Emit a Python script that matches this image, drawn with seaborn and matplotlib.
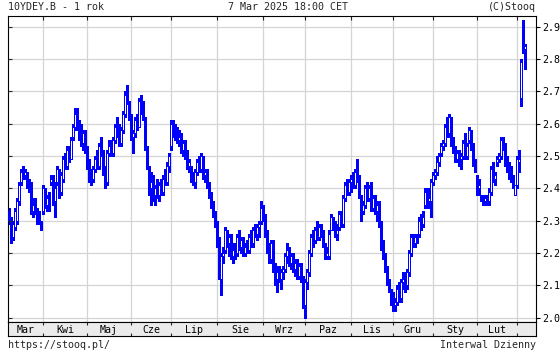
import numpy as np
import pandas as pd
import matplotlib
matplotlib.use("Agg")
import matplotlib.pyplot as plt
import seaborn as sns

# ---------------- data (10YDEY.B daily OHLC, Mar 2024 - Mar 2025) ----------------
opens = [
    2.33, 2.30, 2.25, 2.28, 2.30, 2.36, 2.42, 2.45, 2.44, 2.44, 2.42, 2.41, 2.33, 2.35, 2.33, 2.31, 2.30,
    2.33, 2.39, 2.35, 2.37, 2.42, 2.43, 2.36, 2.42, 2.45, 2.39, 2.43, 2.49, 2.47, 2.51, 2.49, 2.56, 2.59, 2.63, 2.59, 2.58, 2.54, 2.57,
    2.52, 2.47, 2.44, 2.43, 2.46, 2.49, 2.47, 2.53, 2.51, 2.45, 2.42, 2.51, 2.53, 2.51, 2.55, 2.59, 2.57, 2.54, 2.58, 2.63, 2.69, 2.67,
    2.62, 2.56, 2.57, 2.60, 2.59, 2.67, 2.64, 2.62, 2.53, 2.47, 2.40, 2.42, 2.38, 2.40, 2.38, 2.41, 2.39, 2.43, 2.42, 2.47,
    2.53, 2.60, 2.58, 2.57, 2.55, 2.56, 2.52, 2.54, 2.50, 2.47, 2.45, 2.43, 2.42, 2.45, 2.48, 2.46, 2.50, 2.44, 2.45, 2.41, 2.38, 2.35, 2.32,
    2.30, 2.24, 2.12, 2.19, 2.21, 2.26, 2.23, 2.25, 2.19, 2.21, 2.20, 2.25, 2.22, 2.24, 2.20, 2.22, 2.21, 2.25, 2.23, 2.27, 2.26, 2.28, 2.30,
    2.34, 2.31, 2.26, 2.21, 2.18, 2.23, 2.15, 2.12, 2.14, 2.12, 2.14, 2.15, 2.19, 2.21, 2.17, 2.19, 2.15, 2.17, 2.13, 2.16, 2.12,
    2.04, 2.11, 2.14, 2.20, 2.25, 2.24, 2.27, 2.25, 2.28, 2.26, 2.23, 2.19, 2.19, 2.27, 2.31, 2.28, 2.26, 2.28, 2.32, 2.29, 2.37, 2.41, 2.39,
    2.42, 2.43, 2.41, 2.45, 2.43, 2.36, 2.33, 2.35, 2.40, 2.37, 2.40, 2.34, 2.37, 2.33, 2.35, 2.29, 2.22, 2.19, 2.15, 2.11, 2.08,
    2.07, 2.04, 2.05, 2.09, 2.06, 2.11, 2.12, 2.10, 2.14, 2.20, 2.25, 2.23, 2.25, 2.26, 2.30, 2.29, 2.35, 2.39, 2.36, 2.36,
    2.42, 2.44, 2.45, 2.48, 2.51, 2.53, 2.54, 2.59, 2.57, 2.62, 2.54, 2.52, 2.49, 2.51, 2.49, 2.50, 2.54, 2.50, 2.55, 2.58, 2.53, 2.48,
    2.43, 2.40, 2.37, 2.37, 2.36, 2.37, 2.36, 2.39, 2.46, 2.43, 2.48, 2.49, 2.50, 2.55, 2.53, 2.48, 2.46, 2.45, 2.43, 2.38,
    2.41, 2.48, 2.68, 2.91, 2.83,
]
highs = [
    2.34, 2.31, 2.30, 2.34, 2.37, 2.42, 2.46, 2.47, 2.46, 2.45, 2.43, 2.42, 2.37, 2.37, 2.34, 2.33, 2.30,
    2.41, 2.40, 2.38, 2.39, 2.44, 2.44, 2.42, 2.47, 2.46, 2.45, 2.50, 2.51, 2.53, 2.53, 2.56, 2.60, 2.65, 2.65, 2.61, 2.60, 2.58, 2.58,
    2.53, 2.49, 2.46, 2.47, 2.50, 2.52, 2.54, 2.56, 2.52, 2.47, 2.52, 2.55, 2.55, 2.56, 2.60, 2.62, 2.60, 2.59, 2.64, 2.70, 2.72, 2.67,
    2.63, 2.58, 2.62, 2.63, 2.68, 2.69, 2.67, 2.62, 2.53, 2.47, 2.45, 2.44, 2.41, 2.43, 2.42, 2.43, 2.44, 2.46, 2.48, 2.51,
    2.61, 2.61, 2.60, 2.59, 2.58, 2.57, 2.55, 2.55, 2.52, 2.49, 2.47, 2.45, 2.46, 2.49, 2.50, 2.51, 2.50, 2.46, 2.46, 2.42, 2.39, 2.36, 2.33,
    2.30, 2.25, 2.20, 2.22, 2.28, 2.27, 2.26, 2.26, 2.23, 2.23, 2.26, 2.27, 2.25, 2.25, 2.23, 2.24, 2.26, 2.27, 2.28, 2.29, 2.29, 2.30, 2.36,
    2.35, 2.32, 2.27, 2.23, 2.24, 2.24, 2.17, 2.16, 2.16, 2.15, 2.16, 2.20, 2.23, 2.22, 2.20, 2.20, 2.18, 2.18, 2.17, 2.17, 2.13,
    2.12, 2.15, 2.21, 2.26, 2.27, 2.28, 2.30, 2.29, 2.29, 2.27, 2.23, 2.22, 2.27, 2.32, 2.31, 2.30, 2.29, 2.33, 2.33, 2.38, 2.42, 2.43, 2.43,
    2.44, 2.45, 2.46, 2.49, 2.44, 2.38, 2.36, 2.41, 2.42, 2.41, 2.42, 2.38, 2.38, 2.36, 2.36, 2.30, 2.24, 2.20, 2.16, 2.12, 2.09,
    2.08, 2.06, 2.10, 2.11, 2.12, 2.14, 2.14, 2.15, 2.21, 2.26, 2.26, 2.26, 2.26, 2.31, 2.32, 2.33, 2.40, 2.40, 2.40, 2.43,
    2.45, 2.46, 2.50, 2.51, 2.54, 2.55, 2.60, 2.62, 2.63, 2.62, 2.56, 2.53, 2.52, 2.52, 2.51, 2.55, 2.57, 2.54, 2.59, 2.58, 2.54, 2.49,
    2.44, 2.43, 2.38, 2.38, 2.38, 2.38, 2.40, 2.47, 2.48, 2.45, 2.50, 2.51, 2.56, 2.56, 2.54, 2.50, 2.48, 2.47, 2.44, 2.41,
    2.50, 2.52, 2.80, 2.92, 2.845,
]
lows = [
    2.29, 2.23, 2.24, 2.27, 2.29, 2.35, 2.41, 2.43, 2.43, 2.40, 2.39, 2.32, 2.31, 2.32, 2.29, 2.29, 2.27,
    2.32, 2.34, 2.33, 2.33, 2.41, 2.35, 2.31, 2.41, 2.37, 2.38, 2.42, 2.46, 2.46, 2.48, 2.49, 2.55, 2.58, 2.58, 2.55, 2.53, 2.52, 2.51,
    2.46, 2.42, 2.41, 2.42, 2.45, 2.46, 2.46, 2.50, 2.44, 2.40, 2.41, 2.50, 2.50, 2.50, 2.54, 2.56, 2.53, 2.53, 2.57, 2.62, 2.66, 2.61,
    2.55, 2.51, 2.56, 2.58, 2.59, 2.63, 2.61, 2.52, 2.46, 2.38, 2.35, 2.36, 2.35, 2.37, 2.36, 2.38, 2.38, 2.41, 2.41, 2.45,
    2.52, 2.56, 2.55, 2.54, 2.53, 2.51, 2.50, 2.49, 2.46, 2.45, 2.42, 2.41, 2.40, 2.44, 2.45, 2.45, 2.43, 2.42, 2.40, 2.37, 2.34, 2.31, 2.28,
    2.22, 2.12, 2.07, 2.17, 2.20, 2.22, 2.19, 2.18, 2.17, 2.18, 2.19, 2.21, 2.20, 2.19, 2.19, 2.20, 2.20, 2.22, 2.22, 2.25, 2.24, 2.25, 2.29,
    2.30, 2.25, 2.20, 2.17, 2.17, 2.14, 2.10, 2.08, 2.11, 2.09, 2.12, 2.14, 2.17, 2.16, 2.15, 2.14, 2.13, 2.12, 2.12, 2.11, 2.03,
    2.00, 2.09, 2.13, 2.19, 2.22, 2.23, 2.24, 2.24, 2.25, 2.22, 2.18, 2.18, 2.18, 2.27, 2.27, 2.25, 2.24, 2.27, 2.28, 2.28, 2.36, 2.38, 2.38,
    2.39, 2.40, 2.40, 2.42, 2.37, 2.30, 2.32, 2.34, 2.36, 2.36, 2.33, 2.33, 2.32, 2.30, 2.28, 2.21, 2.18, 2.14, 2.10, 2.08, 2.04,
    2.02, 2.02, 2.04, 2.05, 2.05, 2.09, 2.08, 2.09, 2.13, 2.19, 2.22, 2.22, 2.23, 2.25, 2.27, 2.28, 2.34, 2.34, 2.34, 2.31,
    2.41, 2.43, 2.44, 2.47, 2.50, 2.52, 2.53, 2.56, 2.56, 2.53, 2.51, 2.48, 2.48, 2.47, 2.46, 2.49, 2.49, 2.49, 2.54, 2.52, 2.47, 2.45,
    2.38, 2.38, 2.36, 2.35, 2.35, 2.35, 2.35, 2.38, 2.42, 2.41, 2.47, 2.48, 2.49, 2.52, 2.47, 2.45, 2.43, 2.42, 2.40, 2.38,
    2.40, 2.45, 2.655, 2.82, 2.77,
]
closes = [
    2.30, 2.25, 2.29, 2.33, 2.36, 2.41, 2.45, 2.44, 2.45, 2.41, 2.42, 2.33, 2.35, 2.33, 2.30, 2.29, 2.28,
    2.40, 2.35, 2.37, 2.34, 2.43, 2.36, 2.40, 2.46, 2.39, 2.44, 2.49, 2.47, 2.52, 2.49, 2.55, 2.59, 2.63, 2.59, 2.58, 2.54, 2.57, 2.52,
    2.47, 2.44, 2.43, 2.46, 2.49, 2.47, 2.53, 2.51, 2.45, 2.42, 2.51, 2.53, 2.51, 2.55, 2.59, 2.57, 2.54, 2.58, 2.63, 2.69, 2.67, 2.62,
    2.56, 2.57, 2.61, 2.59, 2.67, 2.64, 2.62, 2.53, 2.47, 2.40, 2.42, 2.38, 2.40, 2.38, 2.41, 2.39, 2.43, 2.42, 2.47, 2.50,
    2.60, 2.58, 2.57, 2.55, 2.56, 2.52, 2.54, 2.50, 2.47, 2.48, 2.43, 2.42, 2.45, 2.48, 2.46, 2.50, 2.44, 2.45, 2.41, 2.38, 2.35, 2.32, 2.30,
    2.24, 2.15, 2.19, 2.20, 2.27, 2.23, 2.25, 2.19, 2.21, 2.20, 2.25, 2.22, 2.24, 2.20, 2.22, 2.21, 2.25, 2.23, 2.27, 2.26, 2.28, 2.29, 2.34,
    2.31, 2.26, 2.21, 2.18, 2.23, 2.15, 2.12, 2.14, 2.12, 2.14, 2.15, 2.19, 2.21, 2.17, 2.19, 2.15, 2.17, 2.13, 2.16, 2.12, 2.05,
    2.11, 2.14, 2.20, 2.25, 2.24, 2.27, 2.25, 2.28, 2.26, 2.23, 2.19, 2.20, 2.26, 2.31, 2.28, 2.26, 2.27, 2.32, 2.29, 2.37, 2.41, 2.39, 2.42,
    2.43, 2.41, 2.45, 2.43, 2.38, 2.33, 2.35, 2.40, 2.37, 2.40, 2.34, 2.37, 2.33, 2.35, 2.29, 2.22, 2.19, 2.15, 2.11, 2.09, 2.05,
    2.04, 2.05, 2.09, 2.06, 2.11, 2.12, 2.10, 2.14, 2.20, 2.25, 2.23, 2.25, 2.24, 2.30, 2.29, 2.31, 2.39, 2.36, 2.37, 2.42,
    2.44, 2.45, 2.48, 2.50, 2.53, 2.54, 2.59, 2.57, 2.62, 2.54, 2.52, 2.49, 2.51, 2.49, 2.50, 2.54, 2.50, 2.53, 2.58, 2.53, 2.48, 2.46,
    2.40, 2.41, 2.37, 2.36, 2.37, 2.36, 2.39, 2.46, 2.43, 2.44, 2.49, 2.50, 2.55, 2.53, 2.48, 2.46, 2.45, 2.43, 2.41, 2.41,
    2.49, 2.49, 2.79, 2.83, 2.84,
]
month_labels = ["Mar", "Kwi", "Maj", "Cze", "Lip", "Sie", "Wrz", "Paz", "Lis", "Gru", "Sty", "Lut"]
month_first_day = [17, 39, 61, 81, 104, 127, 148, 171, 192, 212, 234, 254]  # trading-day index of 1st day
y_ticks = [2.0, 2.1, 2.2, 2.3, 2.4, 2.5, 2.6, 2.7, 2.8, 2.9]
title_left = "10YDEY.B - 1 rok"
title_mid = "7 Mar 2025 18:00 CET"
title_right = "(C)Stooq"
foot_left = "https://stooq.pl/"
foot_right = "Interwal Dzienny"

assert len(opens) == len(highs) == len(lows) == len(closes)

# ---------------- style ----------------
sns.set_theme(style="white")
plt.rcParams["font.family"] = ["DejaVu Sans Mono"]
FS = 7.2
BLUE = "#0000ff"
GRID = "#d4d4d4"

W, H = 560, 350
fig = plt.figure(figsize=(W / 100, H / 100), dpi=100, facecolor="white")


def rect(x0, y0, x1, y1):
    return [x0 / W, 1 - y1 / H, (x1 - x0) / W, (y1 - y0) / H]


n = len(closes)
days = np.arange(n)
o = np.array(opens)
c = np.array(closes)
hi = np.array(highs)
lo = np.array(lows)

XL = (-0.5, 263.5)
YL = (1.9867, 2.9346)

ax = fig.add_axes(rect(8, 15.5, 536, 322))
ax.set_facecolor("white")

# wicks via seaborn (one vertical segment per day)
wick_df = pd.DataFrame({
    "day": np.repeat(days, 2),
    "yld": np.column_stack([lo, hi]).ravel(),
})
sns.lineplot(data=wick_df, x="day", y="yld", units="day", estimator=None, sort=False,
             color=BLUE, lw=0.75, ax=ax, legend=False, zorder=2, antialiased=False)

up = c >= o
ax.bar(days, np.abs(c - o), bottom=np.minimum(o, c), width=1.15,
       color=np.where(up, "white", BLUE), edgecolor=BLUE, linewidth=0.7, zorder=3,
       antialiased=False)

ax.set_xlim(*XL)
ax.set_ylim(*YL)
ax.set_xlabel("")
ax.set_ylabel("")
ax.set_yticks(y_ticks)
ax.set_yticklabels([f"{v:.1f}" for v in y_ticks])
ax.set_xticks(month_first_day)
ax.set_xticklabels([])
ax.grid(True, color=GRID, lw=0.9)
ax.set_axisbelow(True)
ax.tick_params(axis="y", which="both", left=False, right=True, labelleft=False, labelright=True,
               direction="out", length=3, width=0.8, pad=1.5, labelsize=FS, colors="black")
ax.tick_params(axis="x", which="both", top=True, bottom=False, direction="in", length=3, width=0.8)
for s in ax.spines.values():
    s.set_color("black")
    s.set_linewidth(0.8)
    s.set_visible(True)

# left inward ticks
axl = fig.add_axes(rect(8, 15.5, 536, 322), frameon=False)
axl.patch.set_alpha(0)
axl.set_xlim(*XL)
axl.set_ylim(*YL)
axl.set_yticks(y_ticks)
axl.set_xticks([])
axl.tick_params(axis="y", left=True, right=False, labelleft=False, direction="in", length=3, width=0.8)

# month label band
axb = fig.add_axes(rect(8, 322, 536, 336))
axb.set_facecolor("#ebebeb")
axb.set_xlim(*XL)
axb.set_ylim(0, 1)
axb.set_yticks([])
axb.set_xticks(month_first_day)
axb.set_xticklabels([])
axb.tick_params(axis="x", top=True, bottom=True, direction="in", length=2.5, width=0.8)
for s in axb.spines.values():
    s.set_color("black")
    s.set_linewidth(0.8)
bounds = [XL[0]] + month_first_day
for i, lab in enumerate(month_labels):
    axb.text((bounds[i] + bounds[i + 1]) / 2, 0.45, lab, ha="center", va="center",
             fontsize=FS, color="black")

# header / footer texts
fig.text(8 / W, 1 - 7.5 / H, title_left, ha="left", va="center", fontsize=FS)
fig.text(288 / W, 1 - 7.5 / H, title_mid, ha="center", va="center", fontsize=FS)
fig.text(536 / W, 1 - 7.5 / H, title_right, ha="right", va="center", fontsize=FS)
fig.text(8 / W, 1 - 344.5 / H, foot_left, ha="left", va="center", fontsize=FS)
fig.text(536 / W, 1 - 344.5 / H, foot_right, ha="right", va="center", fontsize=FS)

fig.savefig("out.png", dpi=100, facecolor="white")
